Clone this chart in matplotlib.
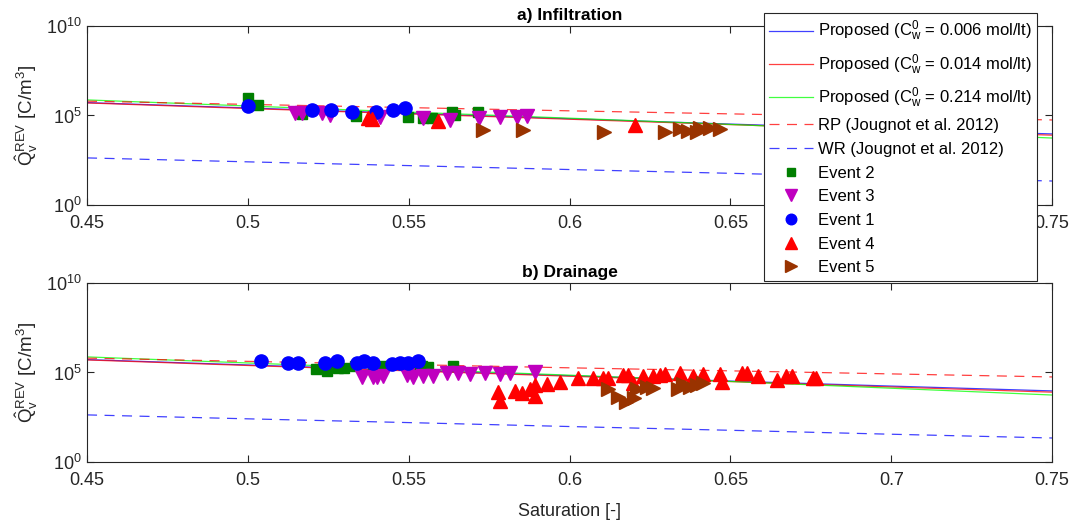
import numpy as np
import matplotlib
matplotlib.use("Agg")
import matplotlib.pyplot as plt
from matplotlib.lines import Line2D

plt.rcParams["font.family"] = ["Liberation Sans", "DejaVu Sans"]
plt.rcParams["mathtext.fontset"] = "custom"
plt.rcParams["mathtext.rm"] = "Liberation Sans"
plt.rcParams["mathtext.it"] = "Liberation Sans:italic"
plt.rcParams["mathtext.bf"] = "Liberation Sans:bold"

# model curves, log10(Q) read at these saturations
sat_grid = [0.45, 0.50, 0.55, 0.60, 0.65, 0.70, 0.75]
prop_006 = [5.72, 5.42, 5.12, 4.82, 4.52, 4.24, 3.97]
prop_014 = [5.70, 5.39, 5.09, 4.79, 4.49, 4.19, 3.90]
prop_214 = [5.87, 5.53, 5.19, 4.85, 4.50, 4.12, 3.74]
rp_jougnot = [5.80, 5.62, 5.44, 5.26, 5.09, 4.92, 4.75]
wr_jougnot = [2.63, 2.41, 2.20, 1.98, 1.77, 1.55, 1.34]

# a) infiltration events: saturation, log10(Q)
inf_e2_s = [0.5001, 0.5032, 0.5169, 0.5337, 0.5498, 0.5545, 0.5573, 0.5635, 0.5644, 0.5716]
inf_e2_q = [5.98, 5.59, 5.08, 4.97, 4.92, 4.86, 4.86, 5.20, 5.03, 5.20]
inf_e3_s = [0.5147, 0.5169, 0.5231, 0.5256, 0.5412, 0.5545, 0.5629, 0.5719, 0.5784, 0.5837, 0.5868]
inf_e3_q = [5.14, 5.14, 5.14, 5.03, 4.92, 4.86, 4.75, 4.86, 4.92, 4.92, 4.97]
inf_e1_s = [0.5001, 0.5199, 0.5259, 0.5324, 0.5399, 0.5452, 0.5489]
inf_e1_q = [5.53, 5.31, 5.31, 5.20, 5.20, 5.31, 5.42]
inf_e4_s = [0.5374, 0.5386, 0.5592, 0.6204]
inf_e4_q = [4.86, 4.80, 4.69, 4.47]
inf_e5_s = [0.5731, 0.5856, 0.6108, 0.6297, 0.6344, 0.6369, 0.6397, 0.6406, 0.6437, 0.6468]
inf_e5_q = [4.19, 4.19, 4.08, 4.08, 4.25, 4.13, 4.08, 4.30, 4.30, 4.25]

# b) drainage events
dr_e2_s = [0.5212, 0.5246, 0.5256, 0.5280, 0.5299, 0.5333, 0.5389, 0.5420, 0.5520, 0.5541, 0.5560, 0.5638]
dr_e2_q = [5.20, 5.08, 5.36, 5.25, 5.25, 5.36, 5.36, 5.36, 5.36, 5.36, 5.31, 5.36]
dr_e3_s = [0.5355, 0.5389, 0.5402, 0.5420, 0.5495, 0.5514, 0.5545, 0.5576, 0.5619, 0.5653,
           0.5691, 0.5738, 0.5784, 0.5815, 0.5893]
dr_e3_q = [4.75, 4.75, 4.75, 4.80, 4.86, 4.75, 4.80, 4.80, 4.97, 4.97, 4.92, 4.97, 4.92, 4.97, 5.03]
dr_e1_s = [0.5041, 0.5125, 0.5156, 0.5240, 0.5277, 0.5339, 0.5361, 0.5389, 0.5448, 0.5473,
           0.5498, 0.5529]
dr_e1_q = [5.64, 5.53, 5.53, 5.53, 5.64, 5.53, 5.64, 5.53, 5.47, 5.53, 5.53, 5.64]
dr_e4_s = [0.5778, 0.5784, 0.5831, 0.5852, 0.5877, 0.5893, 0.5893, 0.5930, 0.5970, 0.6026,
           0.6073, 0.6104, 0.6120, 0.6166, 0.6182, 0.6197, 0.6229, 0.6260, 0.6281, 0.6297,
           0.6344, 0.6384, 0.6415, 0.6468, 0.6474, 0.6536, 0.6552, 0.6586, 0.6645, 0.6673,
           0.6692, 0.6757, 0.6767]
dr_e4_q = [3.91, 3.41, 3.97, 3.85, 4.08, 3.69, 4.30, 4.36, 4.47, 4.69,
           4.69, 4.69, 4.69, 4.86, 4.86, 4.41, 4.80, 4.80, 4.86, 4.92,
           4.97, 4.80, 4.92, 4.92, 4.47, 4.97, 4.97, 4.80, 4.58, 4.80,
           4.80, 4.69, 4.69]
dr_e5_s = [0.6120, 0.6151, 0.6176, 0.6201, 0.6210, 0.6241, 0.6260, 0.6338, 0.6353, 0.6375,
           0.6397, 0.6415]
dr_e5_q = [4.08, 3.63, 3.35, 3.58, 4.08, 4.19, 4.13, 4.08, 4.36, 4.19, 4.30, 4.41]

panel_titles = ["a) Infiltration", "b) Drainage"]
x_ticks = [0.45, 0.5, 0.55, 0.6, 0.65, 0.7, 0.75]
x_ticklabels = ["0.45", "0.5", "0.55", "0.6", "0.65", "0.7", "0.75"]

line_labels = [
    r"Proposed (C$_\mathrm{w}^\mathrm{0}$ = 0.006 mol/lt)",
    r"Proposed (C$_\mathrm{w}^\mathrm{0}$ = 0.014 mol/lt)",
    r"Proposed (C$_\mathrm{w}^\mathrm{0}$ = 0.214 mol/lt)",
    "RP (Jougnot et al. 2012)",
    "WR (Jougnot et al. 2012)",
]

ev_style = {
    "Event 2": dict(marker="s", color="#007f00", ms=7.5),
    "Event 3": dict(marker="v", color="#bf00bf", ms=10.5),
    "Event 1": dict(marker="o", color="#0000ff", ms=9.5),
    "Event 4": dict(marker="^", color="#ff0000", ms=10.5),
    "Event 5": dict(marker=">", color="#993300", ms=10.5),
}

ink = "#262626"
dash = (0, (8, 6))


def q(vals):
    return np.power(10.0, np.asarray(vals))


def draw_panel(ax, events, title):
    s = np.asarray(sat_grid)
    ax.plot(s, q(prop_006), color="#0000ff", lw=0.9, alpha=0.75)
    ax.plot(s, q(prop_014), color="#ff0000", lw=0.9, alpha=0.75)
    ax.plot(s, q(prop_214), color="#00ff00", lw=0.9, alpha=0.75)
    ax.plot(s, q(rp_jougnot), color="#ff0000", lw=0.9, ls=dash, alpha=0.75)
    ax.plot(s, q(wr_jougnot), color="#0000ff", lw=0.9, ls=dash, alpha=0.75)
    for name, (xs, ys) in events.items():
        st = ev_style[name]
        ax.plot(xs, q(ys), ls="none", marker=st["marker"], color=st["color"],
                ms=st["ms"], mec=st["color"])
    ax.set_yscale("log")
    ax.set_xlim(0.45, 0.75)
    ax.set_ylim(1, 1e10)
    ax.set_yticks([1, 1e5, 1e10])
    ax.set_yticklabels([r"10$^\mathrm{0}$", r"10$^\mathrm{5}$", r"10$^\mathrm{10}$"])
    ax.minorticks_off()
    ax.set_xticks(x_ticks)
    ax.set_xticklabels(x_ticklabels)
    ax.tick_params(direction="in", top=True, right=True, labelsize=13,
                   length=5, width=0.8, color=ink, labelcolor=ink)
    ax.tick_params(axis="x", pad=7)
    ax.tick_params(axis="y", pad=4)
    for sp in ax.spines.values():
        sp.set_color(ink)
        sp.set_linewidth(0.8)
    ax.set_ylabel(r"$\hat{\mathrm{Q}}_\mathrm{v}^\mathrm{REV}$ [C/m$^\mathrm{3}$]",
                  fontsize=13.5, labelpad=4, color=ink)
    ax.set_title(title, fontsize=12.5, fontweight="bold", pad=4)


fig = plt.figure(figsize=(10.8, 5.29), dpi=100)
ax_top = fig.add_axes([0.0806, 0.6125, 0.8935, 0.3384])
ax_bot = fig.add_axes([0.0806, 0.1267, 0.8935, 0.3384])

draw_panel(ax_top, {
    "Event 2": (inf_e2_s, inf_e2_q),
    "Event 3": (inf_e3_s, inf_e3_q),
    "Event 1": (inf_e1_s, inf_e1_q),
    "Event 4": (inf_e4_s, inf_e4_q),
    "Event 5": (inf_e5_s, inf_e5_q),
}, panel_titles[0])
draw_panel(ax_bot, {
    "Event 2": (dr_e2_s, dr_e2_q),
    "Event 3": (dr_e3_s, dr_e3_q),
    "Event 1": (dr_e1_s, dr_e1_q),
    "Event 4": (dr_e4_s, dr_e4_q),
    "Event 5": (dr_e5_s, dr_e5_q),
}, panel_titles[1])
ax_bot.set_xlabel("Saturation [-]", fontsize=13, color=ink, labelpad=10)

handles = [
    Line2D([], [], color="#0000ff", lw=0.9, alpha=0.75),
    Line2D([], [], color="#ff0000", lw=0.9, alpha=0.75),
    Line2D([], [], color="#00ff00", lw=0.9, alpha=0.75),
    Line2D([], [], color="#ff0000", lw=0.9, ls=dash, alpha=0.75),
    Line2D([], [], color="#0000ff", lw=0.9, ls=dash, alpha=0.75),
]
labels = list(line_labels)
for name, st in ev_style.items():
    handles.append(Line2D([], [], ls="none", marker=st["marker"], color=st["color"],
                          ms=st["ms"] * 0.8))
    labels.append(name)

leg = fig.legend(handles, labels, loc="upper left", bbox_to_anchor=(0.707, 0.975),
                 fontsize=12, frameon=True, fancybox=False, edgecolor=ink,
                 framealpha=1, handlelength=2.6, handletextpad=0.3,
                 borderpad=0.35, labelspacing=0.52, borderaxespad=0)
leg.get_frame().set_linewidth(0.8)

fig.savefig("out.png", dpi=100)
